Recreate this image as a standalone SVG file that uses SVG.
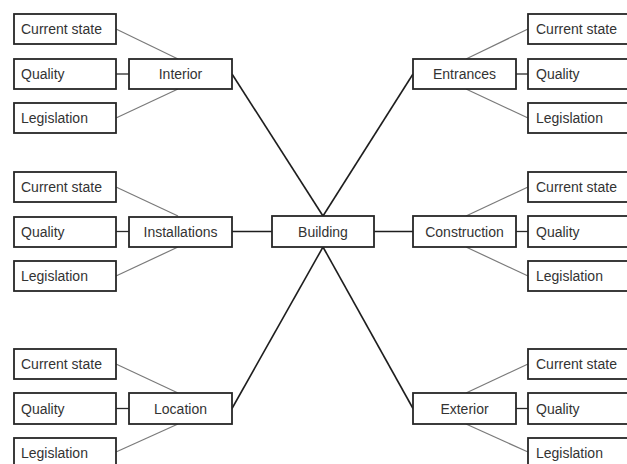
<svg xmlns="http://www.w3.org/2000/svg" width="627" height="464" viewBox="0 0 627 464">
  <style>
    .box { fill: #ffffff; stroke: #262626; stroke-width: 1.8; }
    .lbl { font-family: "Liberation Sans", Arial, sans-serif; font-size: 14px; fill: #333333; }
    .mid { text-anchor: middle; }
    .main { stroke: #1e1e1e; stroke-width: 1.6; fill: none; }
    .sub { stroke: #7a7a7a; stroke-width: 1.2; fill: none; }
    .tick { stroke: #2a2a2a; stroke-width: 1.3; fill: none; }
  </style>
  <rect width="627" height="464" fill="#ffffff"/>

  <g id="connectors">
    <!-- category to building -->
    <line class="main" x1="232" y1="74" x2="323" y2="216"/>
    <line class="main" x1="413" y1="74" x2="323" y2="216"/>
    <line class="main" x1="232" y1="231.5" x2="272" y2="231.5"/>
    <line class="main" x1="374" y1="231.5" x2="413" y2="231.5"/>
    <line class="main" x1="232" y1="408.5" x2="323" y2="247"/>
    <line class="main" x1="413" y1="408.5" x2="323" y2="247"/>
    <!-- Interior -->
    <line class="sub" x1="116" y1="29" x2="178" y2="59"/>
    <line class="tick" x1="116" y1="74" x2="129" y2="74"/>
    <line class="sub" x1="116" y1="118" x2="178" y2="89"/>
    <!-- Installations -->
    <line class="sub" x1="116" y1="187" x2="178" y2="216"/>
    <line class="tick" x1="116" y1="231.5" x2="129" y2="231.5"/>
    <line class="sub" x1="116" y1="276" x2="178" y2="247"/>
    <!-- Location -->
    <line class="sub" x1="116" y1="364" x2="178" y2="393"/>
    <line class="tick" x1="116" y1="408.5" x2="129" y2="408.5"/>
    <line class="sub" x1="116" y1="452" x2="178" y2="424"/>
    <!-- Entrances -->
    <line class="sub" x1="528" y1="29" x2="466" y2="59"/>
    <line class="tick" x1="516" y1="74" x2="528" y2="74"/>
    <line class="sub" x1="528" y1="118" x2="466" y2="89"/>
    <!-- Construction -->
    <line class="sub" x1="528" y1="187" x2="466" y2="216"/>
    <line class="tick" x1="516" y1="231.5" x2="528" y2="231.5"/>
    <line class="sub" x1="528" y1="276" x2="466" y2="247"/>
    <!-- Exterior -->
    <line class="sub" x1="528" y1="364" x2="466" y2="393"/>
    <line class="tick" x1="516" y1="408.5" x2="528" y2="408.5"/>
    <line class="sub" x1="528" y1="452" x2="466" y2="424"/>
  </g>

  <g id="building">
    <rect class="box" x="272" y="216" width="102" height="31"/>
    <text class="lbl mid" x="323" y="236.5">Building</text>
  </g>

  <g id="interior">
    <rect class="box" x="129" y="59" width="103" height="30"/>
    <text class="lbl mid" x="180.5" y="79">Interior</text>
  </g>
  <g id="installations">
    <rect class="box" x="129" y="217" width="103" height="30"/>
    <text class="lbl mid" x="180.5" y="237">Installations</text>
  </g>
  <g id="location">
    <rect class="box" x="129" y="393" width="103" height="31"/>
    <text class="lbl mid" x="180.5" y="413.5">Location</text>
  </g>
  <g id="entrances">
    <rect class="box" x="413" y="59" width="103" height="30"/>
    <text class="lbl mid" x="464.5" y="79">Entrances</text>
  </g>
  <g id="construction">
    <rect class="box" x="413" y="216" width="103" height="31"/>
    <text class="lbl mid" x="464.5" y="236.5">Construction</text>
  </g>
  <g id="exterior">
    <rect class="box" x="413" y="393" width="103" height="31"/>
    <text class="lbl mid" x="464.5" y="413.5">Exterior</text>
  </g>

  <!-- left leaves -->
  <g id="interior-current">
    <rect class="box" x="14" y="14" width="102" height="30"/>
    <text class="lbl" x="21" y="34">Current state</text>
  </g>
  <g id="interior-quality">
    <rect class="box" x="14" y="59" width="102" height="30"/>
    <text class="lbl" x="21" y="79">Quality</text>
  </g>
  <g id="interior-legislation">
    <rect class="box" x="14" y="103" width="102" height="30"/>
    <text class="lbl" x="21" y="123">Legislation</text>
  </g>
  <g id="installations-current">
    <rect class="box" x="14" y="172" width="102" height="30"/>
    <text class="lbl" x="21" y="192">Current state</text>
  </g>
  <g id="installations-quality">
    <rect class="box" x="14" y="217" width="102" height="30"/>
    <text class="lbl" x="21" y="237">Quality</text>
  </g>
  <g id="installations-legislation">
    <rect class="box" x="14" y="261" width="102" height="30"/>
    <text class="lbl" x="21" y="281">Legislation</text>
  </g>
  <g id="location-current">
    <rect class="box" x="14" y="349" width="102" height="30"/>
    <text class="lbl" x="21" y="369">Current state</text>
  </g>
  <g id="location-quality">
    <rect class="box" x="14" y="393" width="102" height="31"/>
    <text class="lbl" x="21" y="413.5">Quality</text>
  </g>
  <g id="location-legislation">
    <rect class="box" x="14" y="438" width="102" height="30"/>
    <text class="lbl" x="21" y="458">Legislation</text>
  </g>

  <!-- right leaves -->
  <g id="entrances-current">
    <rect class="box" x="528" y="14" width="104" height="30"/>
    <text class="lbl" x="536" y="34">Current state</text>
  </g>
  <g id="entrances-quality">
    <rect class="box" x="528" y="59" width="104" height="30"/>
    <text class="lbl" x="536" y="79">Quality</text>
  </g>
  <g id="entrances-legislation">
    <rect class="box" x="528" y="103" width="104" height="30"/>
    <text class="lbl" x="536" y="123">Legislation</text>
  </g>
  <g id="construction-current">
    <rect class="box" x="528" y="172" width="104" height="30"/>
    <text class="lbl" x="536" y="192">Current state</text>
  </g>
  <g id="construction-quality">
    <rect class="box" x="528" y="216" width="104" height="31"/>
    <text class="lbl" x="536" y="236.5">Quality</text>
  </g>
  <g id="construction-legislation">
    <rect class="box" x="528" y="261" width="104" height="30"/>
    <text class="lbl" x="536" y="281">Legislation</text>
  </g>
  <g id="exterior-current">
    <rect class="box" x="528" y="349" width="104" height="30"/>
    <text class="lbl" x="536" y="369">Current state</text>
  </g>
  <g id="exterior-quality">
    <rect class="box" x="528" y="393" width="104" height="31"/>
    <text class="lbl" x="536" y="413.5">Quality</text>
  </g>
  <g id="exterior-legislation">
    <rect class="box" x="528" y="438" width="104" height="30"/>
    <text class="lbl" x="536" y="458">Legislation</text>
  </g>
</svg>
